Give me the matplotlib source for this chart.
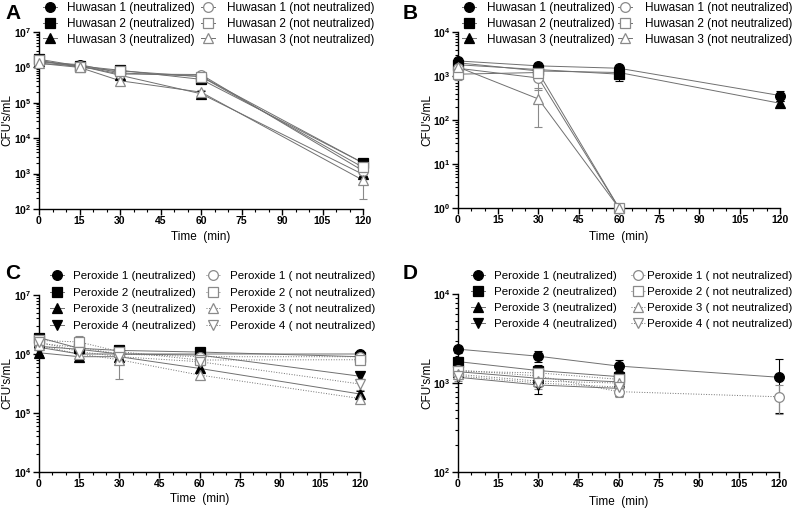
import numpy as np
import matplotlib
matplotlib.use('Agg')
import matplotlib.pyplot as plt
from matplotlib.ticker import MultipleLocator, LogLocator, FuncFormatter, NullFormatter
from matplotlib.lines import Line2D

plt.rcParams['font.family'] = ['Liberation Sans', 'DejaVu Sans']
plt.rcParams['mathtext.fontset'] = 'custom'
plt.rcParams['mathtext.rm'] = 'Liberation Sans'
plt.rcParams['mathtext.bf'] = 'Liberation Sans:bold'
plt.rcParams['mathtext.it'] = 'Liberation Sans:italic'

nan = np.nan

# ---------------- Panel A : Huwasan, x = time (min) ----------------
time_A = [0, 15, 30, 60, 120]
A_labels = ["Huwasan 1 (neutralized)", "Huwasan 2 (neutralized)", "Huwasan 3 (neutralized)",
            "Huwasan 1 (not neutralized)", "Huwasan 2 (not neutralized)", "Huwasan 3 (not neutralized)"]
A_h1_n = [1.4e6, 1.2e6, 7.0e5, 5.6e5, 2.0e3]
A_h2_n = [1.7e6, 1.1e6, 8.3e5, 4.6e5, 2.0e3]
A_h3_n = [1.5e6, 1.1e6, 6.0e5, 1.8e5, 9.5e2]
A_h1_nn = [1.3e6, 1.1e6, 6.5e5, 6.3e5, 1.2e3]
A_h2_nn = [1.6e6, 1.0e6, 8.0e5, 5.5e5, 1.5e3]
A_h3_nn = [1.3e6, 1.0e6, 4.2e5, 2.0e5, 6.5e2]
A_err_h1_n = [2e5, 1e5, 1e5, 8e4, 2e2]
A_err_h2_n = [2e5, 1e5, 1e5, 8e4, 2e2]
A_err_h3_n = [2e5, 1e5, 1e5, 3e4, 1e2]
A_err_h1_nn = [2e5, 1e5, 1e5, 1e5, 2e2]
A_err_h2_nn = [2e5, 1e5, 1e5, 8e4, 2e2]
A_err_h3_nn = [2e5, 1e5, 8e4, 3e4, 4.6e2]

# ---------------- Panel B : Huwasan ----------------
time_B = [0, 30, 60, 120]
B_h1_n = [2.2e3, 1.7e3, 1.5e3, 3.6e2]
B_h2_n = [1.8e3, 1.4e3, 1.1e3, nan]
B_h3_n = [2.0e3, 1.3e3, 1.2e3, 2.4e2]
B_h1_nn = [1.5e3, 9.0e2, 1.0, nan]
B_h2_nn = [1.1e3, 1.2e3, 1.0, nan]
B_h3_nn = [1.6e3, 3.0e2, 1.0, nan]
B_err_h1_n = [3e2, 3e2, 2e2, 9e1]
B_err_h2_n = [3e2, 2e2, 3.5e2, 0]
B_err_h3_n = [3e2, 2e2, 2e2, 3e1]
B_err_h1_nn = [3e2, 4.2e2, 0, 0]
B_err_h2_nn = [3e2, 2e2, 0, 0]
B_err_h3_nn = [3e2, 2.3e2, 0, 0]

# ---------------- Panel C : Peroxide ----------------
time_C = [0, 15, 30, 60, 120]
C_labels = ["Peroxide 1 (neutralized)", "Peroxide 2 (neutralized)", "Peroxide 3 (neutralized)",
            "Peroxide 4 (neutralized)", "Peroxide 1 ( not neutralized)", "Peroxide 2 ( not neutralized)",
            "Peroxide 3 ( not neutralized)", "Peroxide 4 ( not neutralized)"]
C_p1_n = [1.35e6, 1.2e6, 1.0e6, 1.0e6, 1.0e6]
C_p2_n = [1.9e6, 1.25e6, 1.15e6, 1.08e6, 9.0e5]
C_p3_n = [1.05e6, 9.0e5, 9.0e5, 5.7e5, 2.1e5]
C_p4_n = [1.3e6, 1.0e6, 1.0e6, 9.6e5, 4.2e5]
C_p1_nn = [1.5e6, 1.3e6, 1.0e6, 9.0e5, 9.0e5]
C_p2_nn = [1.7e6, 1.6e6, 1.1e6, 7.9e5, 8.0e5]
C_p3_nn = [1.4e6, 1.0e6, 8.0e5, 4.4e5, 1.76e5]
C_p4_nn = [1.6e6, 1.1e6, 9.0e5, 7.4e5, 3.1e5]
C_err_p1_n = [1e5, 1e5, 1e5, 1e5, 5e4]
C_err_p2_n = [2e5, 2e5, 1e5, 1e5, 5e4]
C_err_p3_n = [1e5, 1e5, 1e5, 8e4, 3e4]
C_err_p4_n = [1e5, 1e5, 1e5, 1e5, 5e4]
C_err_p1_nn = [1e5, 1e5, 1e5, 1e5, 5e4]
C_err_p2_nn = [2e5, 4e5, 1e5, 1e5, 5e4]
C_err_p3_nn = [1e5, 1e5, 4.3e5, 6e4, 2e4]
C_err_p4_nn = [1e5, 1e5, 1e5, 1e5, 6e4]

# ---------------- Panel D : Peroxide ----------------
time_D = [0, 30, 60, 120]
D_p1_n = [2.4e3, 2.0e3, 1.55e3, 1.16e3]
D_p2_n = [1.74e3, 1.38e3, 1.18e3, nan]
D_p3_n = [1.34e3, 1.13e3, 1.03e3, nan]
D_p4_n = [1.16e3, 9.5e2, 8.7e2, nan]
D_p1_nn = [1.4e3, 1.2e3, 8.0e2, 7.0e2]
D_p2_nn = [1.35e3, 1.3e3, 1.1e3, nan]
D_p3_nn = [1.25e3, 1.05e3, 1.0e3, nan]
D_p4_nn = [1.2e3, 1.0e3, 9.0e2, nan]
D_err_p1_n = [2e2, 3e2, 2.5e2, 7e2]
D_err_p2_n = [2e2, 2e2, 2e2, 0]
D_err_p3_n = [1.5e2, 1.5e2, 1.5e2, 0]
D_err_p4_n = [1.5e2, 2e2, 1.5e2, 0]
D_err_p1_nn = [1.5e2, 2e2, 1e2, 2.56e2]
D_err_p2_nn = [1.5e2, 2e2, 1.5e2, 0]
D_err_p3_nn = [1.5e2, 1.5e2, 1.5e2, 0]
D_err_p4_nn = [1.5e2, 1.5e2, 1.5e2, 0]

W, H = 794, 509
fig = plt.figure(figsize=(W / 100, H / 100), dpi=100)
renderer = fig.canvas.get_renderer()

def fx(px):
    return px / W

def fy(py):
    return 1 - py / H

def fit_size(text, target_px, ref=10.0):
    t = fig.text(0, 0, text, fontsize=ref)
    w = t.get_window_extent(renderer=renderer).width
    t.remove()
    return ref * target_px / w

FS_A = fit_size("Huwasan 1 (neutralized)", 128)
FS_C = fit_size("Peroxide 1 (neutralized)", 122)

def make_ax(x0, x1, ytop, ybot):
    return fig.add_axes([fx(x0), fy(ybot), fx(x1 - x0), (ybot - ytop) / H])

GRAY = '#707070'
OPEN = '#8a8a8a'
MS = 7

def style(m, filled):
    if filled:
        return dict(marker=m, markerfacecolor='black', markeredgecolor='black')
    return dict(marker=m, markerfacecolor='white', markeredgecolor=OPEN)

def draw(ax, t, series, errs, markers, filled, ls):
    for y, e, m, f, l in zip(series, errs, markers, filled, ls):
        y = np.array(y, dtype=float)
        e = np.array(e, dtype=float)
        t_arr = np.array(t, dtype=float)
        ok = ~np.isnan(y)
        ecol = 'black' if f else OPEN
        ax.errorbar(t_arr[ok], y[ok], yerr=e[ok], fmt='none', ecolor=ecol,
                    elinewidth=0.8, capsize=3, capthick=0.8, zorder=3, clip_on=False)
        ax.plot(t_arr[ok], y[ok], color=GRAY, lw=0.7, ls=l, zorder=2, clip_on=False)
        ax.plot(t_arr[ok], y[ok], ls='none', markersize=MS, markeredgewidth=0.9,
                zorder=4, clip_on=False, **style(m, f))

def fmt_axes(ax, ylo, yhi, ylab_right, xlab_top):
    ax.set_yscale('log')
    ax.set_xlim(0, 120)
    ax.set_ylim(ylo, yhi)
    for s in ['top', 'right']:
        ax.spines[s].set_visible(False)
    for s in ['left', 'bottom']:
        ax.spines[s].set_linewidth(1.0)
    ax.xaxis.set_major_locator(MultipleLocator(15))
    ax.xaxis.set_minor_locator(MultipleLocator(5))
    ax.yaxis.set_major_locator(LogLocator(base=10, numticks=20))
    ax.yaxis.set_minor_locator(LogLocator(base=10, subs=np.arange(2, 10), numticks=20))
    ax.yaxis.set_minor_formatter(NullFormatter())
    ax.yaxis.set_major_formatter(FuncFormatter(
        lambda v, p: r'$\mathbf{10^{%d}}$' % int(round(np.log10(v)))))
    ax.tick_params(axis='both', which='major', direction='out', length=4, width=1.0,
                   labelsize=7.5, pad=1.2)
    ax.tick_params(axis='both', which='minor', direction='out', length=2, width=0.8)
    for lab in ax.get_xticklabels():
        lab.set_fontweight('bold')
    ax.set_xlabel('Time  (min)', fontsize=8.5)
    ax.set_ylabel("CFU's/mL", fontsize=8.5)
    bb = ax.get_position()
    wpx = bb.width * W
    hpx = bb.height * H
    ax.yaxis.set_label_coords(ylab_right / wpx, 0.5)
    ax.xaxis.set_label_coords(0.5, xlab_top / hpx)

def legend_column(labels, markers, filled, ls, marker_x, text_x, rows_y, fs):
    for lab, m, f, l, y in zip(labels, markers, filled, ls, rows_y):
        fig.add_artist(Line2D([fx(marker_x - 7), fx(marker_x + 7)], [fy(y), fy(y)],
                              transform=fig.transFigure, color=GRAY, lw=0.7, ls=l))
        fig.add_artist(Line2D([fx(marker_x)], [fy(y)], transform=fig.transFigure,
                              ls='none', markersize=MS, markeredgewidth=0.9, **style(m, f)))
        fig.text(fx(text_x), fy(y), lab, fontsize=fs, va='center_baseline', ha='left')

huw_markers = ['o', 's', '^', 'o', 's', '^']
huw_filled = [True, True, True, False, False, False]
per_markers = ['o', 's', '^', 'v', 'o', 's', '^', 'v']
per_filled = [True] * 4 + [False] * 4
huw_ls = ['-'] * 6
per_ls = ['-'] * 4 + [':'] * 4

# Panel A
axA = make_ax(39, 363, 32, 209)
draw(axA, time_A, [A_h1_n, A_h2_n, A_h3_n, A_h1_nn, A_h2_nn, A_h3_nn],
     [A_err_h1_n, A_err_h2_n, A_err_h3_n, A_err_h1_nn, A_err_h2_nn, A_err_h3_nn],
     huw_markers, huw_filled, huw_ls)
fmt_axes(axA, 1e2, 1e7, -26, -22)

# Panel B
axB = make_ax(458, 780, 32, 208)
draw(axB, time_B, [B_h1_n, B_h2_n, B_h3_n, B_h1_nn, B_h2_nn, B_h3_nn],
     [B_err_h1_n, B_err_h2_n, B_err_h3_n, B_err_h1_nn, B_err_h2_nn, B_err_h3_nn],
     huw_markers, huw_filled, huw_ls)
fmt_axes(axB, 1e0, 1e4, -25, -23)

# Panel C
axC = make_ax(39, 360, 295, 472)
draw(axC, time_C, [C_p1_n, C_p2_n, C_p3_n, C_p4_n, C_p1_nn, C_p2_nn, C_p3_nn, C_p4_nn],
     [C_err_p1_n, C_err_p2_n, C_err_p3_n, C_err_p4_n,
      C_err_p1_nn, C_err_p2_nn, C_err_p3_nn, C_err_p4_nn],
     per_markers, per_filled, per_ls)
fmt_axes(axC, 1e4, 1e7, -26, -21)

# Panel D
axD = make_ax(458, 779, 294, 472)
draw(axD, time_D, [D_p1_n, D_p2_n, D_p3_n, D_p4_n, D_p1_nn, D_p2_nn, D_p3_nn, D_p4_nn],
     [D_err_p1_n, D_err_p2_n, D_err_p3_n, D_err_p4_n,
      D_err_p1_nn, D_err_p2_nn, D_err_p3_nn, D_err_p4_nn],
     per_markers, per_filled, per_ls)
fmt_axes(axD, 1e2, 1e4, -25, -24)

# Legends (two columns each, placed above the plots)
rows_AB = [7, 23, 38]
legend_column(A_labels[:3], huw_markers[:3], huw_filled[:3], huw_ls[:3], 50, 67, rows_AB, FS_A)
legend_column(A_labels[3:], huw_markers[3:], huw_filled[3:], huw_ls[3:], 208, 227, rows_AB, FS_A)
legend_column(A_labels[:3], huw_markers[:3], huw_filled[:3], huw_ls[:3], 469, 487, rows_AB, FS_A)
legend_column(A_labels[3:], huw_markers[3:], huw_filled[3:], huw_ls[3:], 625, 645, rows_AB, FS_A)

rows_C = [275, 292, 308, 325]
rows_D = [275, 291, 307, 323]
legend_column(C_labels[:4], per_markers[:4], per_filled[:4], per_ls[:4], 57, 73, rows_C, FS_C)
legend_column(C_labels[4:], per_markers[4:], per_filled[4:], per_ls[4:], 213, 230, rows_C, FS_C)
legend_column(C_labels[:4], per_markers[:4], per_filled[:4], per_ls[:4], 478, 494, rows_D, FS_C)
legend_column(C_labels[4:], per_markers[4:], per_filled[4:], per_ls[4:], 638, 647, rows_D, FS_C)

for lab, (x, y) in zip('ABCD', [(5, 4), (403, 4), (5, 264), (403, 264)]):
    fig.text(fx(x), fy(y), lab, fontsize=15, fontweight='bold', va='top', ha='left')

fig.savefig('out.png', dpi=100)
